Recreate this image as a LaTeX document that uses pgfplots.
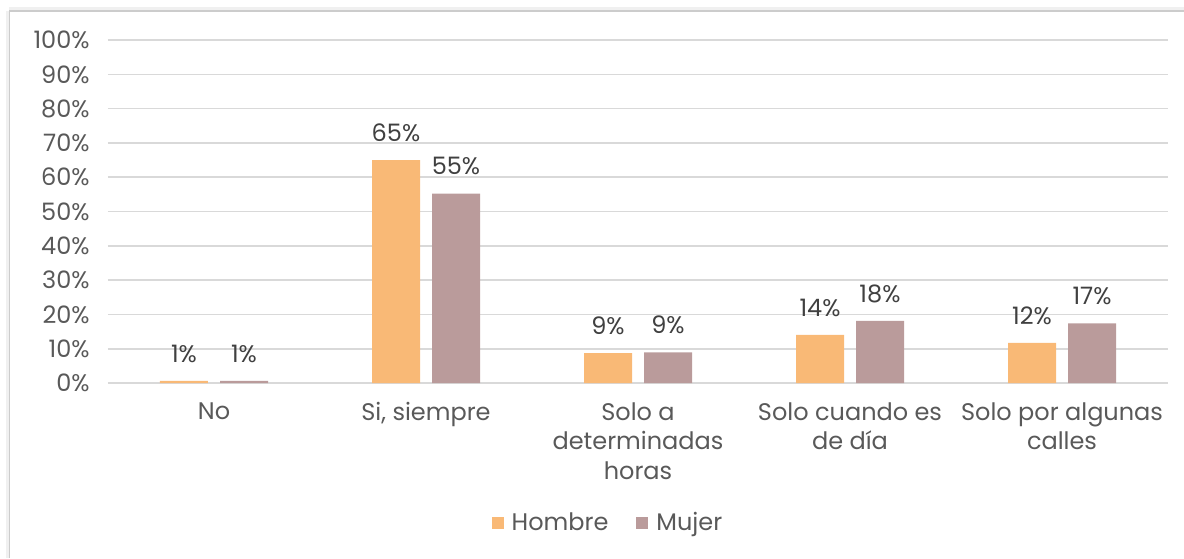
\documentclass[border=0pt]{standalone}
\usepackage{fontspec}
\setmainfont{Poppins}
\usepackage{pgfplots}
\pgfplotsset{compat=1.18}
\usepackage{pgfplotstable}

\definecolor{hombre}{HTML}{F9B976}
\definecolor{mujer}{HTML}{BA9B9B}
\definecolor{gridc}{HTML}{D9D9D9}
\definecolor{txt}{HTML}{595959}
\definecolor{lab}{HTML}{404040}

% x, value, label
\pgfplotstableread{
x  y    lab
0  0.6  1\%
1  65.0 65\%
2  8.7  9\%
3  14.0 14\%
4  11.7 12\%
}\hombredata
\pgfplotstableread{
x  y    lab
0  0.6  1\%
1  55.2 55\%
2  8.9  9\%
3  18.1 18\%
4  17.4 17\%
}\mujerdata

\begin{document}
\fontsize{12}{14.75}\selectfont
\begin{tikzpicture}
\path[use as bounding box] (0,0) rectangle (592pt,279pt);
\fill[black!6] (3.2pt,0) rectangle (4.5pt,273.5pt);
\fill[black!6] (4.5pt,274pt) rectangle (592pt,275.5pt);
\draw[black!20, line width=0.9pt] (4.75pt,0) -- (4.75pt,273.5pt) -- (592pt,273.5pt);
\begin{axis}[
  at={(54pt,87.5pt)}, anchor=south west,
  scale only axis, width=530pt, height=171.5pt,
  xmin=-0.5, xmax=4.5, ymin=0, ymax=100,
  axis line style={draw=none},
  ymajorgrids, xmajorgrids=false,
  grid style={draw=gridc, line width=0.8pt},
  ytick={0,10,...,100},
  /pgf/number format/assume math mode=true,
  yticklabel={\pgfmathprintnumber{\tick}\%},
  yticklabel style={text=txt, xshift=-5pt},
  xtick=data,
  xticklabels={No, {Si, siempre}, {Solo a\\determinadas\\horas}, {Solo cuando es\\de día}, {Solo por algunas\\calles}},
  xticklabel style={text=txt, align=center, yshift=-5.5pt},
  major tick length=0pt,
  ybar=6pt, bar width=24pt,
  nodes near coords,
  point meta=explicit symbolic,
  every node near coord/.append style={text=lab, yshift=5pt},
  legend style={at={(axis description cs:0.4726,-0.408)}, anchor=center,
    draw=none, legend columns=2, text=txt,
    /tikz/every odd column/.append style={column sep=2pt},
    /tikz/every even column/.append style={column sep=12pt}},
  legend image code/.code={\fill[#1] (0pt,-3pt) rectangle (6pt,3pt);},
]
\addplot[fill=hombre, draw=none] table[x=x, y=y, meta=lab] {\hombredata};
\addlegendentry{Hombre}
\addplot[fill=mujer, draw=none] table[x=x, y=y, meta=lab] {\mujerdata};
\addlegendentry{Mujer}
\end{axis}
\end{tikzpicture}
\end{document}
